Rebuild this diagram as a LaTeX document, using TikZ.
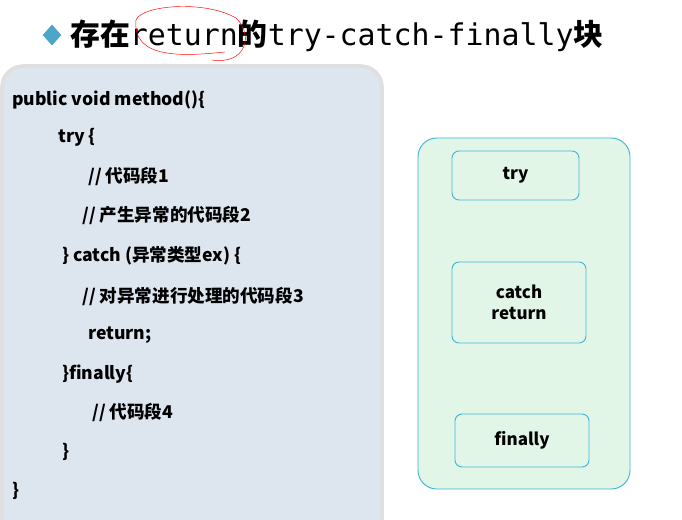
\documentclass[tikz,border=0pt]{standalone}
\usepackage{fontspec}
\setmainfont{Noto Sans CJK SC}
\newfontfamily\monocjk{DejaVu Sans Mono}
\usetikzlibrary{shapes.geometric}
\definecolor{panelblue}{HTML}{DDE5EF}
\definecolor{panelgreen}{HTML}{E2F6E8}
\definecolor{boxline}{HTML}{3DB5D8}
\definecolor{diamondblue}{HTML}{4BA6C8}
\tikzset{
  codeline/.style={anchor=west,font=\bfseries\fontsize{15}{17}\selectfont,inner sep=0pt},
  blockbox/.style={draw=boxline,thick,fill=panelgreen,rounded corners=6pt,
    font=\bfseries\fontsize{14.5}{18}\selectfont,align=center}
}
\begin{document}
\begin{tikzpicture}[x=0.03cm,y=-0.03cm]
\useasboundingbox (0,0) rectangle (682,519);
% title
\node[diamond,fill=diamondblue,minimum width=16pt,minimum height=18pt,inner sep=0pt] (mark) at (52,35) {};
\node[anchor=west,inner sep=0pt,font=\bfseries\fontsize{25.5}{28}\selectfont] (title) at (70,36)
  {存在{\monocjk\mdseries return}的{\monocjk\mdseries try-catch-finally}块};
\draw[red,thin] (225,52) .. controls (185,56) and (132,60) .. (136,20)
  .. controls (142,5) and (205,0) .. (236,18) .. controls (254,35) and (246,65) .. (212,60);
% left panel
\draw[gray!25,line width=3pt,fill=panelblue,rounded corners=18pt] (2,66) rectangle (382,540);
\node[codeline] (l1) at (12,100) {public void method()\{};
\node[codeline] (l2) at (58,137) {try \{};
\node[codeline] (l3) at (88,176) {// 代码段1};
\node[codeline] (l4) at (82,215) {// 产生异常的代码段2};
\node[codeline] (l5) at (62,256) {\} catch (异常类型ex) \{};
\node[codeline] (l6) at (82,296) {// 对异常进行处理的代码段3};
\node[codeline] (l7) at (88,335) {return;};
\node[codeline] (l8) at (62,374) {\}finally\{};
\node[codeline] (l9) at (92,412) {// 代码段4};
\node[codeline] (l10) at (62,452) {\}};
\node[codeline] (l11) at (12,491) {\}};
% right panel
\draw[boxline,thick,fill=panelgreen,rounded corners=16pt] (418,138) rectangle (630,489);
\node[blockbox,minimum width=127*0.03cm,minimum height=49*0.03cm] (try) at (515.5,175.5) {try};
\node[blockbox,minimum width=134*0.03cm,minimum height=81*0.03cm] (catch) at (519,302.5) {catch\\return};
\node[blockbox,minimum width=134*0.03cm,minimum height=53*0.03cm] (finally) at (522,440.5) {finally};
\end{tikzpicture}
\end{document}
